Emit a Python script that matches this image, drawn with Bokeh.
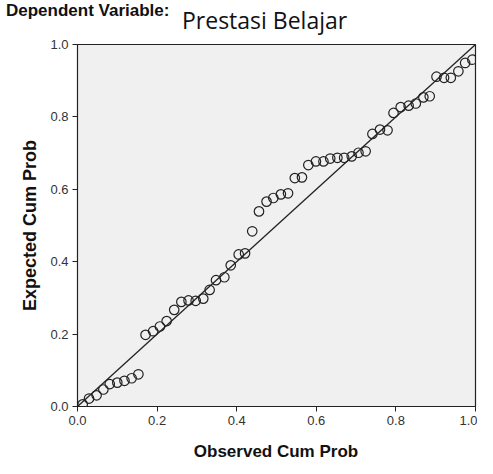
from bokeh.plotting import figure
from bokeh.models import Range1d, FixedTicker, NumeralTickFormatter, Slope, Div
from bokeh.layouts import column
from bokeh.embed import file_html
from bokeh.resources import INLINE

# Observed vs expected cumulative probabilities
observed = [0.013, 0.029, 0.048, 0.065, 0.081, 0.100, 0.118, 0.136, 0.153, 0.171,
            0.190, 0.207, 0.224, 0.243, 0.261, 0.279, 0.297, 0.316, 0.332, 0.348,
            0.369, 0.385, 0.405, 0.421, 0.439, 0.456, 0.475, 0.492, 0.511, 0.529,
            0.546, 0.564, 0.580, 0.599, 0.618, 0.635, 0.653, 0.670, 0.689, 0.706,
            0.724, 0.741, 0.760, 0.779, 0.794, 0.812, 0.832, 0.850, 0.869, 0.885,
            0.902, 0.921, 0.938, 0.957, 0.974, 0.992]
expected = [0.006, 0.022, 0.031, 0.047, 0.062, 0.066, 0.071, 0.078, 0.089, 0.198,
            0.208, 0.221, 0.236, 0.267, 0.289, 0.293, 0.292, 0.298, 0.322, 0.349,
            0.357, 0.390, 0.420, 0.423, 0.484, 0.539, 0.566, 0.576, 0.586, 0.589,
            0.631, 0.633, 0.667, 0.677, 0.677, 0.685, 0.687, 0.687, 0.691, 0.701,
            0.705, 0.753, 0.765, 0.763, 0.811, 0.827, 0.831, 0.837, 0.854, 0.857,
            0.911, 0.908, 0.908, 0.926, 0.949, 0.958]
tick_values = [0.0, 0.2, 0.4, 0.6, 0.8, 1.0]
title_prefix = "Dependent Variable:"
title_var = "Prestasi Belajar"
x_label = "Observed Cum Prob"
y_label = "Expected Cum Prob"

title_html = (
    '<div style="position:relative;width:477px;height:36px;">'
    '<span style="position:absolute;left:6px;top:1px;white-space:nowrap;'
    'font-family:\'Liberation Sans\';font-weight:bold;font-size:17px;line-height:19px;color:#111;">'
    + title_prefix + '</span>'
    '<span style="position:absolute;left:182px;top:9px;white-space:nowrap;'
    'font-family:\'Open Sans\';font-size:23px;line-height:23px;color:#111;">'
    + title_var + '</span></div>'
)
title_div = Div(text=title_html, width=477, height=36, margin=(0, 0, 0, 0))

xlabel_html = (
    '<div style="position:relative;width:477px;height:26px;">'
    '<span style="position:absolute;left:276px;top:11px;transform:translateX(-50%);'
    'white-space:nowrap;font-family:\'Liberation Sans\';font-weight:bold;font-size:17px;'
    'line-height:17px;color:#111;">' + x_label + '</span></div>'
)
xlabel_div = Div(text=xlabel_html, width=477, height=26, margin=(0, 0, 0, 0))

p = figure(width=477, height=396, output_backend="svg", toolbar_location=None,
           x_range=Range1d(0, 1), y_range=Range1d(0, 1), margin=(0, 0, 0, 0),
           min_border_left=77, min_border_right=2, min_border_top=8, min_border_bottom=26)
p.background_fill_color = "#F0F0F0"
p.border_fill_color = "white"
p.outline_line_color = "#222222"
p.outline_line_width = 1.2
p.grid.visible = False

for ax in (p.xaxis[0], p.yaxis[0]):
    ax.ticker = FixedTicker(ticks=tick_values)
    ax.formatter = NumeralTickFormatter(format="0.0")
    ax.minor_tick_line_color = None
    ax.major_tick_out = 5
    ax.major_tick_in = 0
    ax.major_tick_line_color = "#222222"
    ax.axis_line_color = "#222222"
    ax.major_label_standoff = 4
    ax.major_label_text_font = "Liberation Sans"
    ax.major_label_text_font_size = "13px"
    ax.major_label_text_color = "#333333"

p.yaxis.axis_label = y_label
p.yaxis.axis_label_text_font = "Liberation Sans"
p.yaxis.axis_label_text_font_style = "bold"
p.yaxis.axis_label_text_font_size = "18px"
p.yaxis.axis_label_text_color = "#111111"
p.yaxis.axis_label_standoff = 7

p.add_layout(Slope(gradient=1, y_intercept=0, line_color="#222222", line_width=1.3))

p.scatter(observed, expected, marker="circle", size=9.5, fill_color=None,
          line_color="#222222", line_width=1.2)

layout = column(title_div, p, xlabel_div, spacing=0)
open("out.html", "w").write(file_html(layout, INLINE))
